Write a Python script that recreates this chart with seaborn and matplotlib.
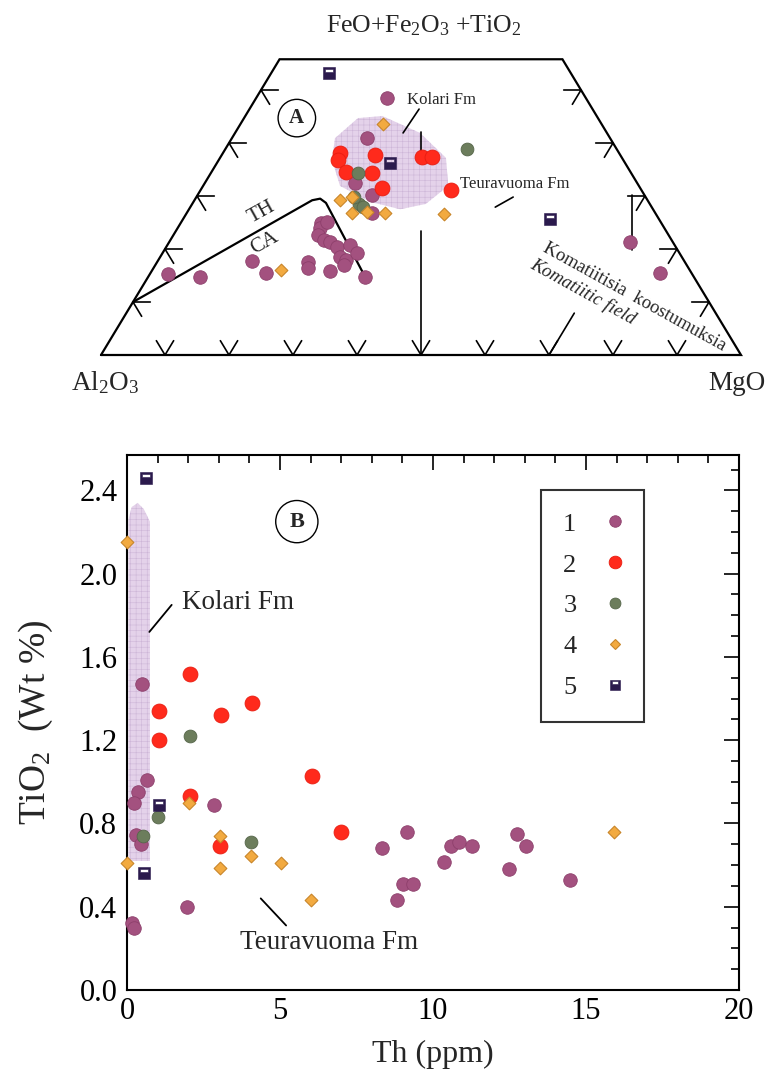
import numpy as np
import pandas as pd
import matplotlib
matplotlib.use("Agg")
import matplotlib.pyplot as plt
import seaborn as sns
from matplotlib.path import Path
from matplotlib.lines import Line2D
from matplotlib.ticker import MultipleLocator, FormatStrFormatter

# ---------------- data: Jensen cation plot (FeO+Fe2O3+TiO2 %, MgO %; Al2O3 = rest)
g1_fe = [48.5, 40.9, 32.4, 30.1, 26.8, 24.9, 24.0, 25.0, 22.6, 21.7, 21.4, 20.4, 20.8, 18.5,
         17.9, 19.2, 17.0, 14.8, 15.2, 14.8, 17.7, 15.5, 17.6, 16.5, 15.9, 21.3, 15.5]
g1_mg = [20.4, 21.1, 23.5, 27.3, 28.9, 22.0, 22.2, 22.8, 22.6, 24.0, 25.1, 26.6, 28.5, 28.1,
         29.4, 30.4, 29.4, 33.9, 2.9, 8.0, 14.8, 18.0, 23.6, 24.1, 27.8, 72.0, 79.6]
g2_fe = [38.1, 36.8, 37.7, 37.3, 37.3, 34.6, 34.3, 31.6, 31.1]
g2_mg = [18.3, 18.7, 23.9, 31.5, 33.0, 21.0, 25.2, 28.1, 39.1]
g3_fe = [38.9, 34.4, 28.5, 28.0, 29.8]
g3_mg = [37.7, 22.9, 26.0, 27.0, 24.6]
g4_fe = [43.6, 29.2, 29.9, 26.8, 27.0, 26.7, 26.6, 16.0]
g4_mg = [22.3, 22.7, 24.2, 25.8, 28.0, 31.0, 40.3, 20.2]
g5_fe = [53.3, 36.2, 25.7]
g5_mg = [9.0, 27.0, 57.3]

kolari_fe = [40.9, 44.7, 45.1, 41.9, 37.2, 31.9, 28.5, 27.5, 28.9, 31.9, 36.8]
kolari_mg = [16.1, 17.8, 21.4, 28.9, 35.3, 38.3, 36.5, 33.0, 27.6, 21.4, 17.7]
thca_fe = [10.0, 29.2, 29.5, 28.7, 15.7]
thca_mg = [0.0, 18.4, 19.5, 20.8, 33.0]

# ---------------- data: TiO2 vs Th
th1 = [0.5, 0.65, 0.36, 0.23, 2.84, 0.29, 0.46, 1.96, 0.16, 0.23, 9.15, 8.32, 10.58, 10.86,
       11.26, 10.37, 12.76, 13.03, 12.48, 14.47, 9.03, 9.36, 8.81]
ti1 = [1.47, 1.01, 0.95, 0.90, 0.89, 0.745, 0.70, 0.40, 0.32, 0.30, 0.76, 0.68, 0.69, 0.71,
       0.69, 0.615, 0.75, 0.69, 0.58, 0.53, 0.51, 0.51, 0.43]
th2 = [2.06, 1.05, 3.06, 4.07, 1.05, 6.03, 2.06, 6.98, 3.04]
ti2 = [1.52, 1.34, 1.32, 1.38, 1.20, 1.03, 0.93, 0.76, 0.69]
th3 = [2.06, 1.02, 0.51, 4.04]
ti3 = [1.22, 0.83, 0.74, 0.71]
th4 = [0.0, 0.0, 2.04, 3.04, 3.04, 4.04, 5.02, 6.0, 15.92]
ti4 = [2.15, 0.61, 0.90, 0.74, 0.585, 0.645, 0.61, 0.43, 0.76]
th5 = [0.61, 1.06, 0.57]
ti5 = [2.46, 0.89, 0.56]

kol_band_th = [0.05, 0.05, 0.15, 0.35, 0.55, 0.75, 0.75]
kol_band_ti = [0.62, 2.26, 2.32, 2.34, 2.31, 2.25, 0.62]

legend_labels = ["1", "2", "3", "4", "5"]

# ---------------- styling
sns.set_theme(style="white")
plt.rcParams["font.family"] = ["Liberation Serif", "DejaVu Serif"]
plt.rcParams["mathtext.fontset"] = "custom"
plt.rcParams["mathtext.rm"] = "Liberation Serif"
plt.rcParams["mathtext.it"] = "Liberation Serif:italic"
plt.rcParams["mathtext.bf"] = "Liberation Serif:bold"
plt.rcParams["hatch.linewidth"] = 0.4

C1, C2, C3, C4, C5 = "#a3517f", "#ff2a1c", "#6c7d5c", "#f2aa40", "#2b1a4d"
SHADE = "#e4d2ea"

# square marker with a white window in the upper half
_sq = Path([(-1, -1), (1, -1), (1, 1), (-1, 1), (-1, -1),
            (-0.62, 0.12), (-0.62, 0.66), (0.62, 0.66), (0.62, 0.12), (-0.62, 0.12)],
           [Path.MOVETO, Path.LINETO, Path.LINETO, Path.LINETO, Path.CLOSEPOLY,
            Path.MOVETO, Path.LINETO, Path.LINETO, Path.LINETO, Path.CLOSEPOLY])

styles = [
    dict(marker="o", s=95, color=C1, edgecolor="#8d3f6b", linewidth=0.6),
    dict(marker="o", s=115, color=C2, edgecolor="#e81c10", linewidth=0.6),
    dict(marker="o", s=85, color=C3, edgecolor="#56664a", linewidth=0.6),
    dict(marker="D", s=42, color=C4, edgecolor="#c8862a", linewidth=0.8),
    dict(marker=_sq, s=85, color=C5, edgecolor=C5, linewidth=0.4),
]

fig = plt.figure(figsize=(7.8, 10.8), dpi=100)


def tern_xy(fe, mg):
    fe = np.asarray(fe, dtype=float) / 100.0
    mg = np.asarray(mg, dtype=float) / 100.0
    return mg + fe / 2.0, fe


# ================= top: Jensen plot
axA = fig.add_axes([0, 1 - 420 / 1080, 1, 420 / 1080])
axA.set_xlim(-101 / 640, 679 / 640)
axA.set_ylim(-65 / 530, 355 / 530)
axA.axis("off")

cut = 0.558
ox = [0, 1, 1 - cut / 2, cut / 2, 0]
oy = [0, 0, cut, cut, 0]
axA.plot(ox, oy, color="black", lw=1.6, solid_joinstyle="miter", zorder=3)

L = 0.027
tk = dict(color="black", lw=1.2, zorder=3)
for k in range(1, 10):
    m = k / 10
    axA.plot([m - L / 2, m, m + L / 2], [L, 0, L], **tk)
for k in range(1, 6):
    f = k / 10
    x0 = f / 2
    axA.plot([x0 + L, x0, x0 + L / 2], [f, f, f - L], **tk)
    x1 = 1 - f / 2
    axA.plot([x1 - L, x1, x1 - L / 2], [f, f, f - L], **tk)

# Kolari field
kx, ky = tern_xy(kolari_fe, kolari_mg)
axA.fill(kx, ky, facecolor=SHADE, edgecolor="#cdb6d8", hatch="+++", lw=0, zorder=1)

# TH / CA boundary
lx, ly = tern_xy(thca_fe, thca_mg)
axA.plot(lx, ly, color="black", lw=1.6, zorder=2, solid_joinstyle="round")

# central Al=Mg line
axA.plot([0.5, 0.5], [0.42, 0.377], color="black", lw=1.2, zorder=2)
axA.plot([0.5, 0.5], [0.234, 0.0], color="black", lw=1.2, zorder=2)

# komatiite field lines
kfx, kfy = tern_xy([30.2, 19.8], [67.9, 73.1])
axA.plot(kfx, kfy, color="black", lw=1.2, zorder=2)
kbx, kby = tern_xy([0.0, 7.9], [70.0, 70.0])
axA.plot(kbx, kby, color="black", lw=1.2, zorder=2)

for fe, mg, st in [(g1_fe, g1_mg, styles[0]), (g2_fe, g2_mg, styles[1]),
                   (g3_fe, g3_mg, styles[2]), (g4_fe, g4_mg, styles[3]),
                   (g5_fe, g5_mg, styles[4])]:
    x, y = tern_xy(fe, mg)
    sns.scatterplot(x=x, y=y, ax=axA, legend=False, zorder=4, **st)

axA.text(0.505, 0.622, r"FeO+Fe$_2$O$_3$ +TiO$_2$", ha="center", va="center", fontsize=18.5)
axA.text(0.006, -0.053, r"Al$_2$O$_3$", ha="center", va="center", fontsize=19.5)
axA.text(0.994, -0.053, "MgO", ha="center", va="center", fontsize=19.5)
axA.text(0.306, 0.447, "A", ha="center", va="center", fontsize=15, fontweight="bold",
         bbox=dict(boxstyle="circle,pad=0.42", fc="white", ec="black", lw=1.0), zorder=5)
axA.text(0.478, 0.481, "Kolari Fm", ha="left", va="center", fontsize=12)
axA.plot([0.472, 0.497], [0.419, 0.464], color="black", lw=1.2, zorder=3)
axA.text(0.561, 0.323, "Teuravuoma Fm", ha="left", va="center", fontsize=12)
axA.plot([0.616, 0.644], [0.279, 0.298], color="black", lw=1.2, zorder=3)
axA.text(0.2516, 0.270, "TH", ha="center", va="center", fontsize=15, rotation=29)
axA.text(0.256, 0.211, "CA", ha="center", va="center", fontsize=15, rotation=29)
axA.text(0.833, 0.109, "Komatiitisia  koostumuksia", ha="center", va="center",
         fontsize=13.5, rotation=-29)
axA.text(0.753, 0.119, "Komatiitic field", ha="center", va="center", fontsize=13.5,
         rotation=-29, style="italic")

# ================= bottom: TiO2 vs Th
axB = fig.add_axes([127 / 780, 90 / 1080, 612 / 780, 535 / 1080])
axB.fill(kol_band_th, kol_band_ti, facecolor=SHADE, edgecolor="#cdb6d8", hatch="+++",
         lw=0, zorder=1)

groups = [(th1, ti1), (th2, ti2), (th3, ti3), (th4, ti4), (th5, ti5)]
for (x, y), st in zip(groups, styles):
    sns.scatterplot(x=x, y=y, ax=axB, legend=False, zorder=4, clip_on=False, **st)

axB.set_xlim(0, 20)
axB.set_ylim(0, 2.57)
axB.xaxis.set_major_locator(MultipleLocator(5))
axB.xaxis.set_minor_locator(MultipleLocator(1))
axB.yaxis.set_major_locator(MultipleLocator(0.4))
axB.yaxis.set_minor_locator(MultipleLocator(0.1))
axB.yaxis.set_major_formatter(FormatStrFormatter("%.1f"))
axB.tick_params(which="both", direction="in", top=True, right=True, colors="black",
                labelsize=22, width=1.2)
axB.tick_params(which="major", length=11)
axB.tick_params(which="minor", length=6)
axB.tick_params(axis="y", which="major", pad=7)
axB.tick_params(axis="x", which="major", pad=5)
for sp in axB.spines.values():
    sp.set_color("black")
    sp.set_linewidth(1.5)
axB.set_xlabel("Th (ppm)", fontsize=23, labelpad=10)
axB.set_ylabel(r"TiO$_2$  (Wt %)", fontsize=27)
axB.yaxis.set_label_coords(-0.118, 0.5)

axB.text(5.55, 2.25, "B", ha="center", va="center", fontsize=16, fontweight="bold",
         bbox=dict(boxstyle="circle,pad=0.5", fc="white", ec="black", lw=1.0), zorder=5)
axB.text(1.8, 1.86, "Kolari Fm", ha="left", va="center", fontsize=19.5)
axB.plot([0.73, 1.46], [1.72, 1.85], color="black", lw=1.3)
axB.text(3.7, 0.23, "Teuravuoma Fm", ha="left", va="center", fontsize=19.5)
axB.plot([4.37, 5.2], [0.44, 0.31], color="black", lw=1.3)

handles = []
for st in styles:
    ms = np.sqrt(st["s"]) * 0.85
    handles.append(Line2D([], [], linestyle="none", marker=st["marker"], markersize=ms,
                          markerfacecolor=st["color"], markeredgecolor=st["edgecolor"],
                          markeredgewidth=st["linewidth"]))
leg = axB.legend(handles, legend_labels, loc="upper left", bbox_to_anchor=(0.676, 0.935),
                 markerfirst=False, fontsize=19, frameon=True, fancybox=False,
                 labelspacing=0.66, handletextpad=1.2, borderpad=0.85, borderaxespad=0,
                 handlelength=0.5)
leg.get_frame().set_edgecolor("black")
leg.get_frame().set_linewidth(1.5)

fig.savefig("out.png", dpi=100)
